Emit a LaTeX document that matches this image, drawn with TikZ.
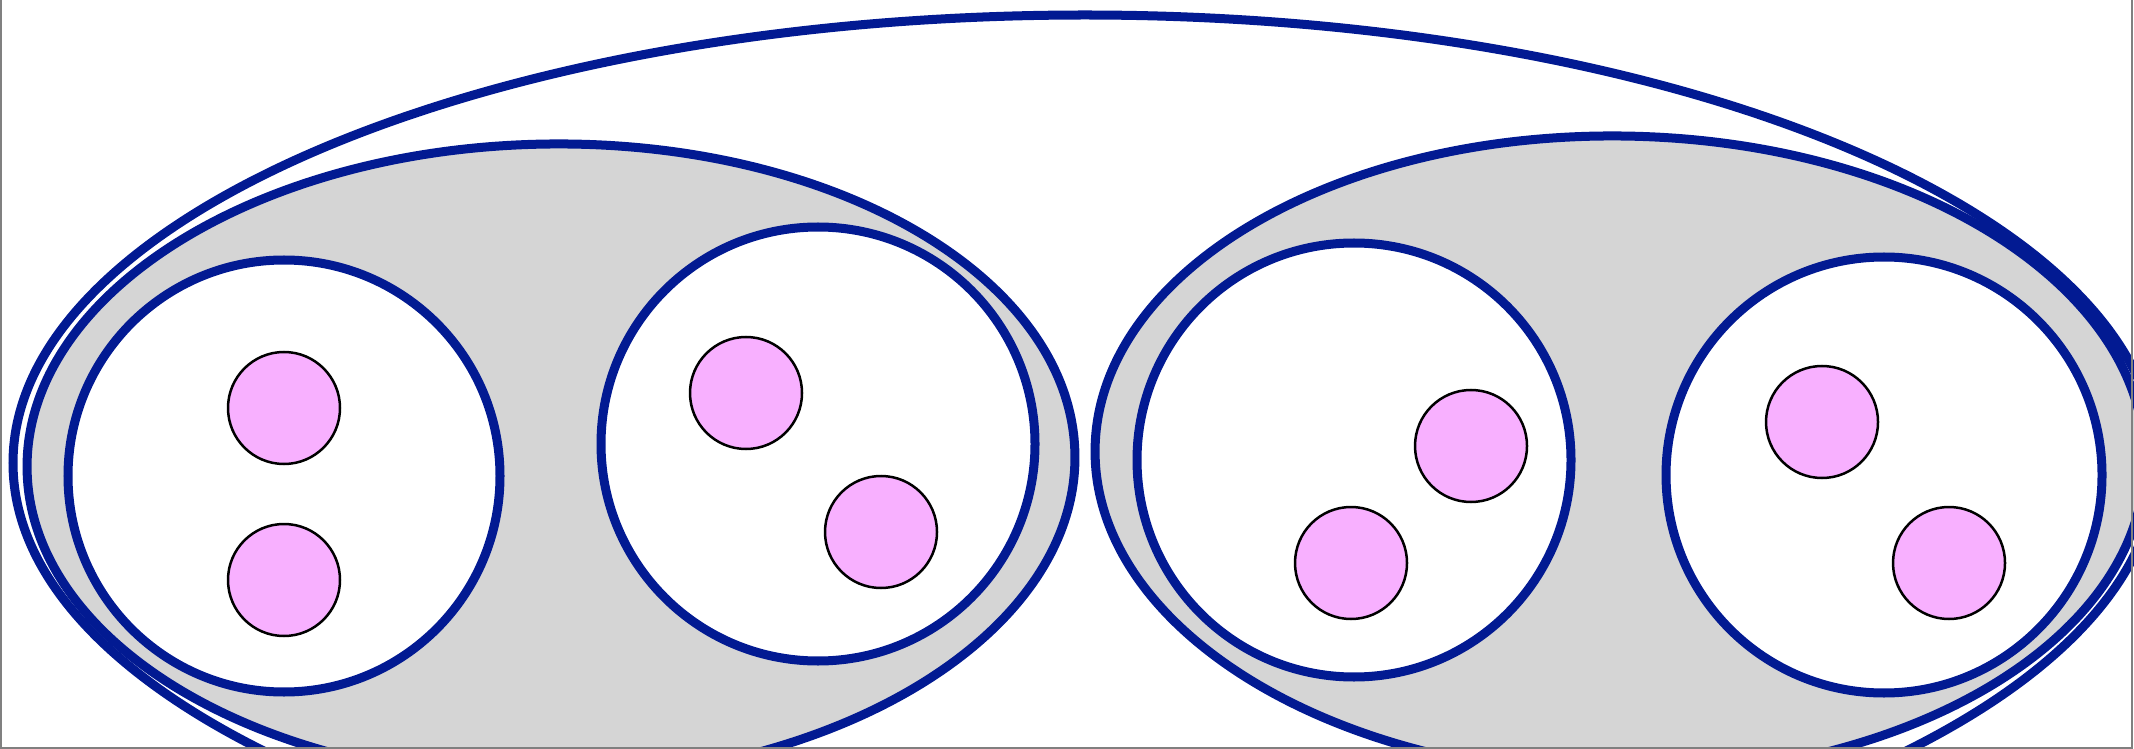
\documentclass[tikz,border=0pt]{standalone}
\usepackage{tikz}
\definecolor{setblue}{RGB}{2,26,146}
\definecolor{setgray}{RGB}{213,213,213}
\definecolor{elpink}{RGB}{248,176,255}
\definecolor{framegray}{RGB}{128,128,128}
\tikzset{
  outerset/.style={draw=setblue, line width=0.09cm},
  grayset/.style={draw=setblue, fill=setgray, line width=0.09cm},
  whiteset/.style={draw=setblue, fill=white, line width=0.09cm},
  element/.style={draw=black, fill=elpink, line width=0.025cm},
  framestyle/.style={draw=framegray, line width=0.02cm}
}
\begin{document}
\begin{tikzpicture}[x=0.01cm, y=-0.01cm]
\useasboundingbox (0,0) rectangle (2134,749);
\fill[white] (0,0) rectangle (2134,749);
\begin{scope}
\clip (0,0) rectangle (2134,749);
% big outer set
\draw[outerset] (1085,463) ellipse [x radius=1072, y radius=448];
% grey sets
\draw[grayset, rotate around={0.8:(551,462)}] (551,462) ellipse [x radius=524, y radius=318];
\draw[grayset, rotate around={-0.8:(1620,456)}] (1620,456) ellipse [x radius=525, y radius=320];
% white sets
\draw[whiteset] (284,476) circle (216);
\draw[whiteset] (818,444) circle (217);
\draw[whiteset] (1354,460) circle (217);
\draw[whiteset] (1884,475) circle (218);
% elements
\draw[element] (284,408) circle (56);
\draw[element] (284,580) circle (56);
\draw[element] (746,393) circle (56);
\draw[element] (881,532) circle (56);
\draw[element] (1471,446) circle (56);
\draw[element] (1351,563) circle (56);
\draw[element] (1822,422) circle (56);
\draw[element] (1949,563) circle (56);
\end{scope}
% frame (left, bottom, right)
\draw[framestyle] (1,0) -- (1,748) -- (2132,748) -- (2132,0);
\end{tikzpicture}
\end{document}
